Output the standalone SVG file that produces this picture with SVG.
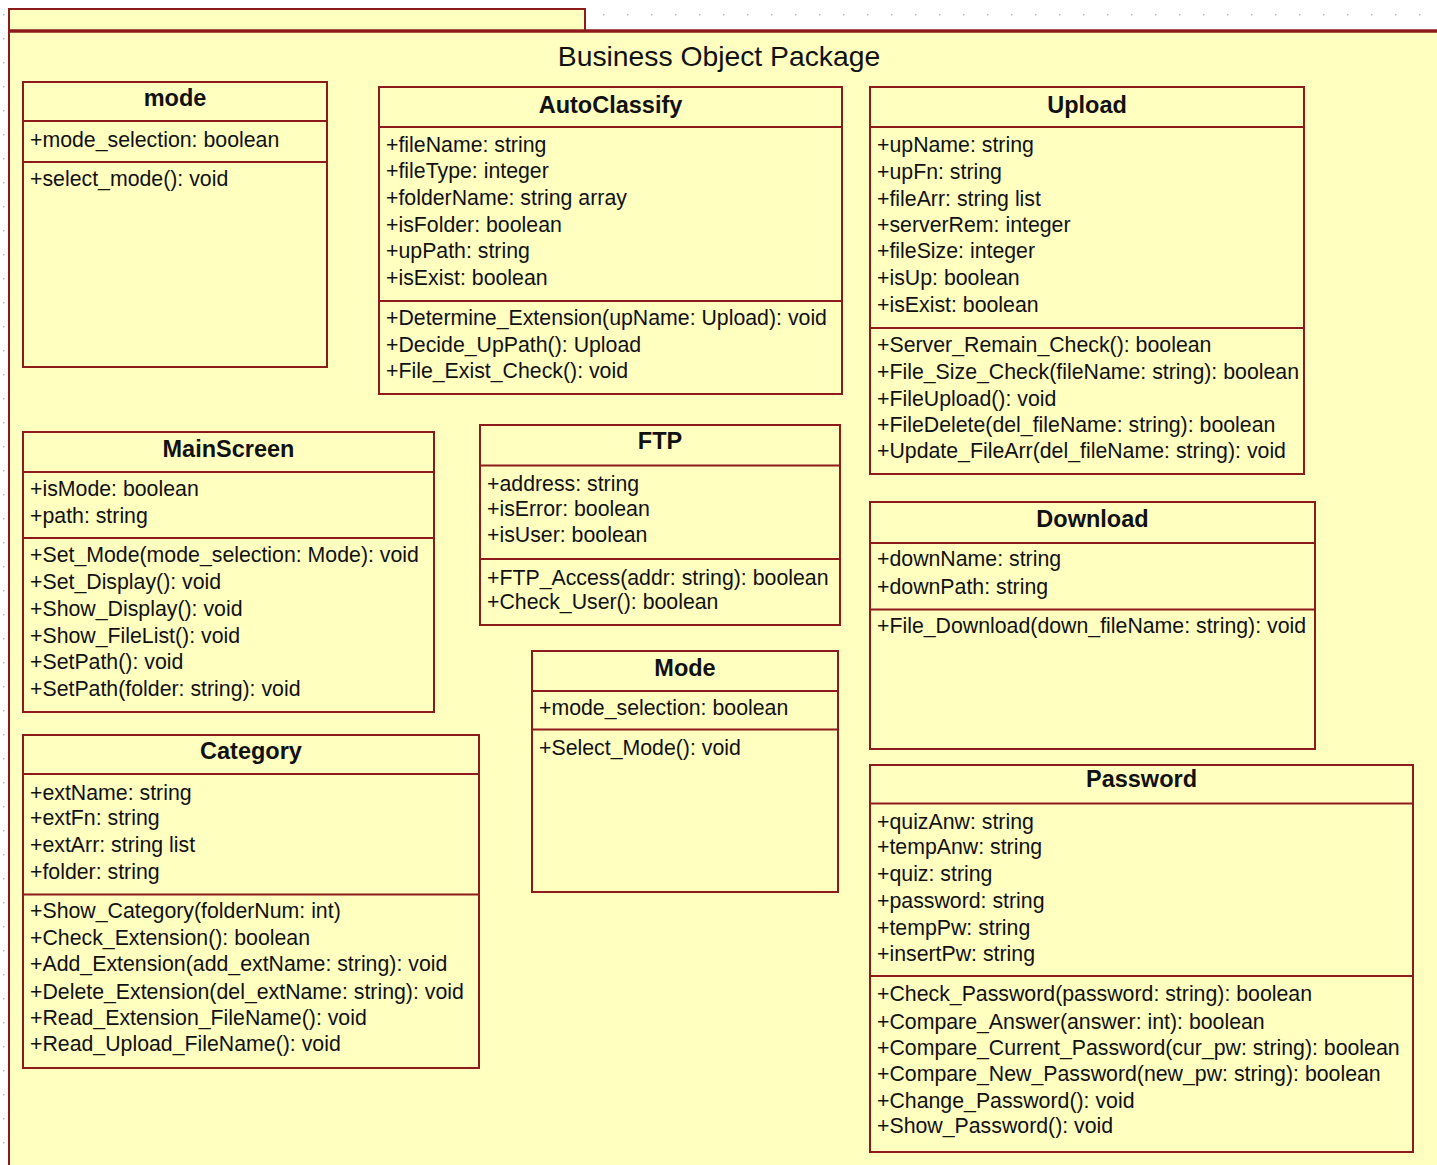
<svg xmlns="http://www.w3.org/2000/svg" width="1437" height="1165" viewBox="0 0 1437 1165">
<defs>
<style>
.box{fill:#FFFFC0;stroke:#8E1B1B;stroke-width:2}
.ln{stroke:#8E1B1B;stroke-width:2}
.t{font-family:"Liberation Sans",Arial,sans-serif;font-size:23.5px;font-weight:bold;fill:#111;text-anchor:middle}
.m{font-family:"Liberation Sans",Arial,sans-serif;font-size:21.3px;fill:#111}
.pt{font-family:"Liberation Sans",Arial,sans-serif;font-size:28.3px;fill:#111;text-anchor:middle}
</style>
<pattern id="grid" x="0" y="0" width="24" height="24" patternUnits="userSpaceOnUse">
<rect x="3" y="14" width="1.5" height="1.5" fill="#b8b8b8"/>
</pattern>
<clipPath id="dlclip"><rect x="870" y="502" width="444" height="247"/></clipPath>
</defs>
<rect x="0" y="0" width="1437" height="1165" fill="#ffffff"/>
<rect x="0" y="0" width="1437" height="1165" fill="url(#grid)"/>

<g id="package">
<rect x="9" y="9" width="576" height="22" fill="#FFFFC0" stroke="#8E1B1B" stroke-width="2"/>
<rect x="9" y="31" width="1440" height="1150" fill="#FFFFC0" stroke="#8E1B1B" stroke-width="2"/>
<line x1="8" y1="31" x2="1437" y2="31" stroke="#8E1B1B" stroke-width="3.5"/>
<text class="pt" x="719" y="66">Business Object Package</text>
</g>

<g id="connectors"></g>

<g id="class-mode">
<rect class="box" x="23" y="82" width="304" height="285"/>
<line class="ln" x1="23" y1="121" x2="327" y2="121"/>
<line class="ln" x1="23" y1="162" x2="327" y2="162"/>
<text class="t" x="175" y="106">mode</text>
<text class="m" x="30" y="146.5">+mode_selection: boolean</text>
<text class="m" x="30" y="185.5">+select_mode(): void</text>
</g>

<g id="class-AutoClassify">
<rect class="box" x="379" y="87" width="463" height="307"/>
<line class="ln" x1="379" y1="127" x2="842" y2="127"/>
<line class="ln" x1="379" y1="301" x2="842" y2="301"/>
<text class="t" x="610.5" y="113">AutoClassify</text>
<text class="m" x="386" y="151.5">+fileName: string</text>
<text class="m" x="386" y="178">+fileType: integer</text>
<text class="m" x="386" y="204.5">+folderName: string array</text>
<text class="m" x="386" y="231.5">+isFolder: boolean</text>
<text class="m" x="386" y="258">+upPath: string</text>
<text class="m" x="386" y="284.5">+isExist: boolean</text>
<text class="m" x="386" y="324.5">+Determine_Extension(upName: Upload): void</text>
<text class="m" x="386" y="351.5">+Decide_UpPath(): Upload</text>
<text class="m" x="386" y="378">+File_Exist_Check(): void</text>
</g>

<g id="class-Upload">
<rect class="box" x="870" y="87" width="434" height="387"/>
<line class="ln" x1="870" y1="127" x2="1304" y2="127"/>
<line class="ln" x1="870" y1="328" x2="1304" y2="328"/>
<text class="t" x="1087" y="113">Upload</text>
<text class="m" x="877" y="151.5">+upName: string</text>
<text class="m" x="877" y="178.5">+upFn: string</text>
<text class="m" x="877" y="205.5">+fileArr: string list</text>
<text class="m" x="877" y="231.5">+serverRem: integer</text>
<text class="m" x="877" y="258">+fileSize: integer</text>
<text class="m" x="877" y="285">+isUp: boolean</text>
<text class="m" x="877" y="311.5">+isExist: boolean</text>
<text class="m" x="877" y="352">+Server_Remain_Check(): boolean</text>
<text class="m" x="877" y="379">+File_Size_Check(fileName: string): boolean</text>
<text class="m" x="877" y="405.5">+FileUpload(): void</text>
<text class="m" x="877" y="431.5">+FileDelete(del_fileName: string): boolean</text>
<text class="m" x="877" y="458">+Update_FileArr(del_fileName: string): void</text>
</g>

<g id="class-MainScreen">
<rect class="box" x="23" y="432" width="411" height="280"/>
<line class="ln" x1="23" y1="472" x2="434" y2="472"/>
<line class="ln" x1="23" y1="538" x2="434" y2="538"/>
<text class="t" x="228.5" y="457">MainScreen</text>
<text class="m" x="30" y="495.5">+isMode: boolean</text>
<text class="m" x="30" y="522.5">+path: string</text>
<text class="m" x="30" y="561.5">+Set_Mode(mode_selection: Mode): void</text>
<text class="m" x="30" y="588.5">+Set_Display(): void</text>
<text class="m" x="30" y="616">+Show_Display(): void</text>
<text class="m" x="30" y="642.5">+Show_FileList(): void</text>
<text class="m" x="30" y="669">+SetPath(): void</text>
<text class="m" x="30" y="695.5">+SetPath(folder: string): void</text>
</g>

<g id="class-FTP">
<rect class="box" x="480" y="425" width="360" height="200"/>
<line class="ln" x1="480" y1="465.5" x2="840" y2="465.5"/>
<line class="ln" x1="480" y1="559" x2="840" y2="559"/>
<text class="t" x="660" y="449">FTP</text>
<text class="m" x="487" y="490.5">+address: string</text>
<text class="m" x="487" y="515.5">+isError: boolean</text>
<text class="m" x="487" y="542">+isUser: boolean</text>
<text class="m" x="487" y="584.5">+FTP_Access(addr: string): boolean</text>
<text class="m" x="487" y="609">+Check_User(): boolean</text>
</g>

<g id="class-Mode">
<rect class="box" x="532" y="651" width="306" height="241"/>
<line class="ln" x1="532" y1="691" x2="838" y2="691"/>
<line class="ln" x1="532" y1="729.5" x2="838" y2="729.5"/>
<text class="t" x="685" y="676">Mode</text>
<text class="m" x="539" y="714.5">+mode_selection: boolean</text>
<text class="m" x="539" y="755">+Select_Mode(): void</text>
</g>

<g id="class-Category">
<rect class="box" x="23" y="735" width="456" height="333"/>
<line class="ln" x1="23" y1="774" x2="479" y2="774"/>
<line class="ln" x1="23" y1="894.5" x2="479" y2="894.5"/>
<text class="t" x="251" y="758.5">Category</text>
<text class="m" x="30" y="799.5">+extName: string</text>
<text class="m" x="30" y="825">+extFn: string</text>
<text class="m" x="30" y="851.5">+extArr: string list</text>
<text class="m" x="30" y="878.5">+folder: string</text>
<text class="m" x="30" y="918">+Show_Category(folderNum: int)</text>
<text class="m" x="30" y="944.5">+Check_Extension(): boolean</text>
<text class="m" x="30" y="971">+Add_Extension(add_extName: string): void</text>
<text class="m" x="30" y="998.5">+Delete_Extension(del_extName: string): void</text>
<text class="m" x="30" y="1024.5">+Read_Extension_FileName(): void</text>
<text class="m" x="30" y="1051">+Read_Upload_FileName(): void</text>
</g>

<g id="class-Download">
<rect class="box" x="870" y="502" width="445" height="247"/>
<line class="ln" x1="870" y1="543" x2="1315" y2="543"/>
<line class="ln" x1="870" y1="609.5" x2="1315" y2="609.5"/>
<text class="t" x="1092.5" y="527">Download</text>
<text class="m" x="877" y="566">+downName: string</text>
<text class="m" x="877" y="593.5">+downPath: string</text>
<text class="m" x="877" y="633" clip-path="url(#dlclip)">+File_Download(down_fileName: string): void</text>
</g>

<g id="class-Password">
<rect class="box" x="870" y="765" width="543" height="387"/>
<line class="ln" x1="870" y1="803.5" x2="1413" y2="803.5"/>
<line class="ln" x1="870" y1="976" x2="1413" y2="976"/>
<text class="t" x="1141.5" y="787">Password</text>
<text class="m" x="877" y="828.5">+quizAnw: string</text>
<text class="m" x="877" y="854">+tempAnw: string</text>
<text class="m" x="877" y="880.5">+quiz: string</text>
<text class="m" x="877" y="907.5">+password: string</text>
<text class="m" x="877" y="935">+tempPw: string</text>
<text class="m" x="877" y="960.5">+insertPw: string</text>
<text class="m" x="877" y="1001">+Check_Password(password: string): boolean</text>
<text class="m" x="877" y="1028.5">+Compare_Answer(answer: int): boolean</text>
<text class="m" x="877" y="1054.5">+Compare_Current_Password(cur_pw: string): boolean</text>
<text class="m" x="877" y="1081">+Compare_New_Password(new_pw: string): boolean</text>
<text class="m" x="877" y="1107.5">+Change_Password(): void</text>
<text class="m" x="877" y="1133">+Show_Password(): void</text>
</g>
</svg>
